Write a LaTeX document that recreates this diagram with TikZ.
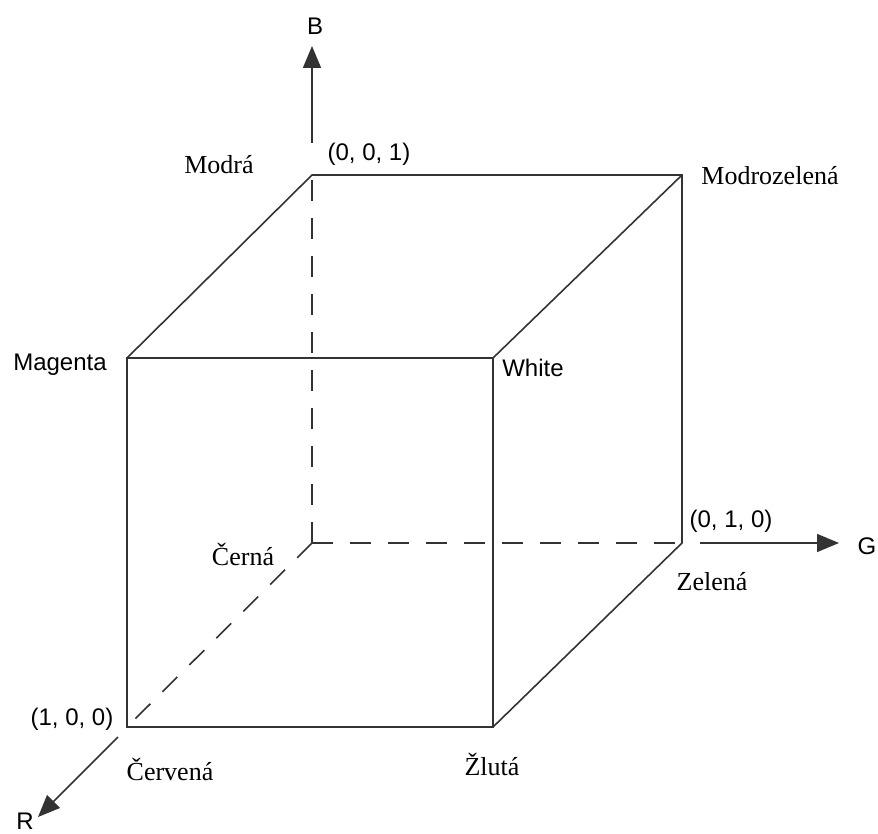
\documentclass[tikz,border=0pt]{standalone}
\usepackage{fontspec}
\setmainfont{Liberation Serif}
\setsansfont{Liberation Sans}
\usetikzlibrary{arrows.meta}
\tikzset{
  edge/.style={draw=black!80, line width=0.8pt},
  hidden/.style={edge, dash pattern=on 10.5pt off 8.5pt},
  axis/.style={edge, -{Triangle[length=11pt,width=9pt]}},
  coordlbl/.style={font=\sffamily\fontsize{12}{14}\selectfont, inner sep=0pt},
  colorlbl/.style={font=\fontsize{13}{15}\selectfont, inner sep=0pt},
}
\begin{document}
\begin{tikzpicture}[x=0.5pt,y=-0.5pt]
\useasboundingbox (0,0) rectangle (878,834);

% corners of the cube
\coordinate (black) at (312,543);
\coordinate (blue) at (312,175);
\coordinate (green) at (682,543);
\coordinate (cyan) at (682,175);
\coordinate (magenta) at (127,358);
\coordinate (white) at (493,358);
\coordinate (red) at (127,727);
\coordinate (yellow) at (493,727);

% axes
\coordinate (bfrom) at (312,143);
\coordinate (bto) at (312,46);
\coordinate (gfrom) at (700,543);
\coordinate (gto) at (839,543);
\coordinate (rfrom) at (118,737);
\coordinate (rto) at (38,817);
\draw[axis] (bfrom) -- (bto);
\draw[axis] (gfrom) -- (gto);
\draw[axis] (rfrom) -- (rto);

% hidden edges
\draw[hidden] (black) -- (blue);
\draw[hidden] (black) -- (green);
\draw[hidden] (black) -- (red);

% visible edges
\draw[edge] (magenta) -- (white) -- (yellow) -- (red) -- cycle;
\draw[edge] (magenta) -- (blue) -- (cyan) -- (green) -- (yellow);
\draw[edge] (white) -- (cyan);

% labels
\node[coordlbl] (lB) at (315,26) {B};
\node[coordlbl] (lG) at (867,546) {G};
\node[coordlbl] (lR) at (25,821) {R};
\node[coordlbl] (l001) at (369,154) {(0, 0, 1)};
\node[coordlbl] (l010) at (731,521) {(0, 1, 0)};
\node[coordlbl] (l100) at (72,719) {(1, 0, 0)};
\node[coordlbl] (lMagenta) at (60,365) {Magenta};
\node[coordlbl] (lWhite) at (533,368) {White};
\node[colorlbl] (lModra) at (219,165) {Modrá};
\node[colorlbl] (lModrozelena) at (770,176) {Modrozelená};
\node[colorlbl] (lCerna) at (243,554) {Černá};
\node[colorlbl] (lZelena) at (712,582) {Zelená};
\node[colorlbl] (lCervena) at (170,769) {Červená};
\node[colorlbl] (lZluta) at (492,764) {Žlutá};
\end{tikzpicture}
\end{document}
